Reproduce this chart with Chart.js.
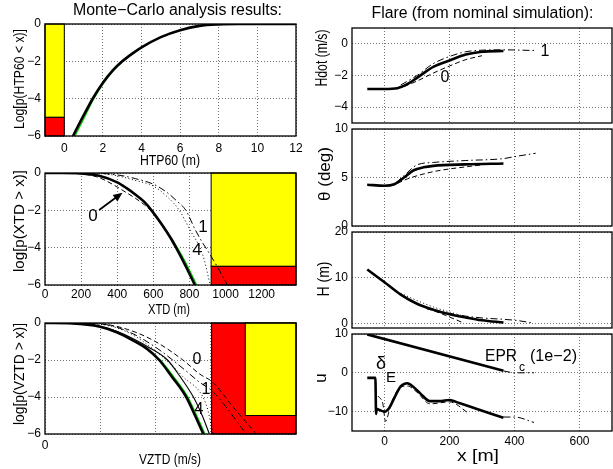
<!DOCTYPE html>
<html>
<head>
<meta charset="utf-8">
<script src="https://cdn.jsdelivr.net/npm/chart.js@4"></script>
<style>
  html, body { margin: 0; padding: 0; background: #fff; }
  #fig { position: relative; width: 613px; height: 469px; overflow: hidden; }
  #fig canvas { position: absolute; left: 0; top: 0; }
</style>
</head>
<body>
<div id="fig"></div>
<script>
// ---- Monte-Carlo: HTP60 ----
const htpX = [0.45, 1, 1.5, 2, 2.5, 3, 3.5, 4, 5, 6, 7, 8, 9, 12];
const htpBlack = [-6, -4.9, -3.95, -3.15, -2.5, -2.0, -1.6, -1.25, -0.7, -0.33, -0.1, -0.02, 0, 0];
const htpGreenX = [0.55, 1, 1.5, 2, 2.5, 3, 4];
const htpGreen = [-6, -5.1, -4.05, -3.22, -2.55, -2.03, -1.26];
const htpXTicks = [0, 2, 4, 6, 8, 10, 12];
const logTicks = [-6, -4, -2, 0];

// ---- Monte-Carlo: XTD ----
const xtdX = [0, 100, 200, 300, 400, 450, 500, 550, 590, 650, 700, 726, 780, 830];
const xtdBlack = [0, 0, -0.02, -0.15, -0.5, -0.8, -1.15, -1.55, -2.0, -2.8, -3.55, -4, -5, -6];
const xtdGreenX = [590, 650, 700, 730, 785, 840];
const xtdGreen = [-2.0, -2.78, -3.5, -3.95, -4.9, -6];
const xtd0X = [0, 200, 300, 400, 450, 500, 550, 590, 650];
const xtd0 = [0, -0.05, -0.25, -0.75, -1.05, -1.35, -1.7, -2.05, -2.85];
const xtd1X = [0, 300, 400, 500, 600, 670, 730, 780, 830, 870, 900, 950, 1010];
const xtd1 = [0, -0.02, -0.1, -0.3, -0.6, -1.0, -1.5, -2.0, -3.0, -3.7, -4.15, -4.95, -6];
const xtd4X = [0, 300, 400, 500, 600, 680, 744, 800, 874, 915];
const xtd4 = [0, -0.03, -0.15, -0.4, -0.7, -1.3, -2.0, -3.0, -4.4, -6];
const xtdXTicks = [0, 200, 400, 600, 800, 1000, 1200];

// ---- Monte-Carlo: VZTD ----
const vzX = [0, 0.5, 1, 1.3, 1.6, 1.85, 2.07, 2.3, 2.56, 2.72, 2.87];
const vzBlack = [0, -0.02, -0.2, -0.5, -0.95, -1.4, -2, -2.9, -4, -5, -6];
const vzThinX = [0, 0.5, 1, 1.3, 1.6, 1.9, 2.22, 2.45, 2.69, 2.85, 2.98];
const vzThin = [0, -0.02, -0.18, -0.45, -0.85, -1.35, -2, -2.9, -4, -5, -6];
const vzGreenX = [1.85, 2.09, 2.33, 2.59, 2.75, 2.9];
const vzGreen = [-1.4, -2, -2.9, -4, -5, -6];
const vz0X = [0, 1, 1.5, 2, 2.5, 2.8, 3.04, 3.4, 3.83];
const vz0 = [0, -0.05, -0.35, -1.0, -2.0, -2.75, -3.2, -4.5, -6];
const vz1X = [0, 1, 1.5, 2, 2.5, 2.8, 3.04, 3.65];
const vz1 = [0, -0.05, -0.45, -1.3, -2.45, -3.2, -3.7, -6];
const vz4X = [0, 1, 1.5, 2, 2.5, 2.92, 3.05];
const vz4 = [0, -0.08, -0.5, -1.5, -2.9, -4.4, -6];
const vzXTicks = [0, 1, 2, 3, 4];

// ---- Flare: Hdot ----
const hdX = [-53, 0, 40, 70, 100, 150, 200, 250, 300, 366];
const hdSolid = [-2.85, -2.85, -2.8, -2.55, -2.15, -1.45, -1.05, -0.68, -0.5, -0.45];
const hd1X = [50, 100, 150, 200, 250, 300, 366, 460];
const hd1 = [-2.6, -2.0, -1.25, -0.8, -0.5, -0.4, -0.38, -0.42];
const hd0X = [60, 100, 150, 200, 250, 300];
const hd0 = [-2.7, -2.35, -1.85, -1.4, -1.0, -0.75];

// ---- Flare: theta ----
const thX = [-53, 0, 30, 60, 90, 120, 150, 250, 366];
const thSolid = [4.25, 4.15, 4.3, 5.0, 5.75, 6.05, 6.2, 6.35, 6.45];
const thDashDotX = [-53, 0, 30, 60, 100, 150, 250, 366, 400, 465];
const thDashDot = [4.25, 4.15, 4.35, 5.2, 6.3, 6.55, 6.75, 6.95, 7.15, 7.5];
const thDashX = [40, 70, 150, 250, 300];
const thDash = [4.4, 4.85, 5.6, 6.1, 6.3];

// ---- Flare: H ----
const hX = [-53, 0, 50, 100, 150, 200, 250, 300, 366];
const hSolid = [11.8, 9.0, 6.3, 4.3, 3.0, 2.0, 1.3, 0.7, 0.2];
const hDotX = [50, 100, 150, 200, 250, 300];
const hDot = [6.6, 5.0, 3.6, 2.5, 1.5, 0.6];
const hDashDotX = [150, 200, 250, 300, 366, 400, 450];
const hDashDot = [3.0, 2.2, 1.6, 1.2, 0.9, 0.7, 0.2];
const hDashX = [130, 150, 190, 240];
const hDash = [3.2, 2.8, 1.7, 0.2];

// ---- Flare: controls u ----
const eprX = [-53, 366];
const epr = [9.9, 0.5];
const eprTailX = [366, 400, 460];
const eprTail = [0.5, 0, 0];
const deX = [-53, -28, -26, -24, -15, 0, 15, 30, 50, 70, 90, 110, 140, 170, 200, 230, 280, 366];
const deSolid = [-1.3, -1.3, -10.6, -9.3, -9.6, -10, -9, -6.5, -3.5, -2.7, -3.7, -5.3, -7.3, -7.3, -7, -7.8, -9.2, -11.6];
const deDashX = [-20, -5, 3, 20, 45, 70, 100, 140, 200, 260];
const deDash = [-6, -8, -12.5, -8, -4, -3.4, -5, -8, -7.5, -10.5];
const deTailX = [366, 400, 460];
const deTail = [-11.4, -11.4, -12.8];

const flareXTicks = [0, 200, 400, 600];

const FONT = '"Liberation Sans", Arial, Helvetica, sans-serif';
const FIG_W = 613, FIG_H = 469;
const YW = 40, XH = 20;
const GRID = 'rgba(0,0,0,0.55)';
const fig = document.getElementById('fig');

function fmt(v) { return v < 0 ? '\u2212' + Math.abs(v) : String(v); }

function line(xs, ys, style) {
  return Object.assign({
    data: xs.map((v, i) => ({ x: v, y: ys[i] })),
    showLine: true, pointRadius: 0, borderColor: '#000', borderWidth: 1,
    fill: false, cubicInterpolationMode: 'monotone'
  }, style);
}
const SOLID = { borderWidth: 2.6 };
const THIN = { borderWidth: 1.1 };
const GREEN = { borderColor: '#00d000', borderWidth: 1.3 };
const DASH = { borderDash: [5, 3] };
const DASHDOT = { borderDash: [7, 3, 1.5, 3] };
const DOT = { borderDash: [1, 2.5] };

function drawText(ctx, t) {
  ctx.save();
  ctx.translate(t.x, t.y);
  if (t.rot) ctx.rotate(-Math.PI / 2);
  ctx.font = (t.size || 12) + 'px ' + FONT;
  ctx.textAlign = 'center';
  ctx.textBaseline = 'middle';
  if (t.w) { const m = ctx.measureText(t.t).width; ctx.scale(t.w / m, 1); }
  ctx.fillStyle = '#000';
  ctx.fillText(t.t, 0, 0);
  ctx.restore();
}

function deco(spec) {
  return {
    id: 'deco',
    beforeDatasetsDraw(chart) {
      const { ctx, scales: { x, y } } = chart;
      (spec.zones || []).forEach(z => {
        const x0 = x.getPixelForValue(z.x[0]), x1 = x.getPixelForValue(z.x[1]);
        const y0 = y.getPixelForValue(z.y[0]), y1 = y.getPixelForValue(z.y[1]);
        ctx.save();
        ctx.fillStyle = z.color;
        ctx.fillRect(x0, y1, x1 - x0, y0 - y1);
        ctx.strokeStyle = '#000';
        ctx.lineWidth = 1;
        ctx.strokeRect(x0, y1, x1 - x0, y0 - y1);
        ctx.restore();
      });
    },
    afterDraw(chart) {
      const { ctx, chartArea: a, scales: { x, y } } = chart;
      ctx.save();
      ctx.strokeStyle = '#000';
      ctx.lineWidth = 1.3;
      ctx.strokeRect(a.left, a.top, a.right - a.left, a.bottom - a.top);
      (spec.arrows || []).forEach(ar => {
        const x0 = x.getPixelForValue(ar.from[0]), y0 = y.getPixelForValue(ar.from[1]);
        const x1 = x.getPixelForValue(ar.to[0]), y1 = y.getPixelForValue(ar.to[1]);
        const ang = Math.atan2(y1 - y0, x1 - x0);
        ctx.lineWidth = 1.8;
        ctx.beginPath(); ctx.moveTo(x0, y0);
        ctx.lineTo(x1 - 6 * Math.cos(ang), y1 - 6 * Math.sin(ang)); ctx.stroke();
        ctx.beginPath();
        ctx.moveTo(x1, y1);
        ctx.lineTo(x1 - 10 * Math.cos(ang - 0.4), y1 - 10 * Math.sin(ang - 0.4));
        ctx.lineTo(x1 - 10 * Math.cos(ang + 0.4), y1 - 10 * Math.sin(ang + 0.4));
        ctx.closePath(); ctx.fillStyle = '#000'; ctx.fill();
      });
      ctx.restore();
      (spec.texts || []).forEach(t => drawText(ctx, t));
    }
  };
}

function makePanel(spec) {
  const c = document.createElement('canvas');
  c.width = FIG_W; c.height = FIG_H;
  fig.appendChild(c);
  const b = spec.box;
  const tickFont = { family: FONT, size: 12 };
  new Chart(c, {
    type: 'scatter',
    data: { datasets: spec.datasets },
    options: {
      responsive: false, animation: false, events: [],
      layout: { padding: { left: b.l - YW, top: b.t, right: FIG_W - b.r, bottom: FIG_H - b.b - XH } },
      plugins: { legend: { display: false }, tooltip: { enabled: false } },
      scales: {
        x: {
          type: 'linear', position: 'bottom', min: spec.xMin, max: spec.xMax,
          afterBuildTicks: s => { s.ticks = spec.xTicks.map(v => ({ value: v })); },
          afterFit: s => { s.height = XH; },
          ticks: { display: spec.xShow !== false, callback: spec.xFmt || fmt, font: tickFont, color: '#000',
                   padding: spec.xPad || 4, maxRotation: 0, autoSkip: false },
          grid: { color: GRID, drawTicks: false },
          border: { display: false, dash: [1, 2] }
        },
        y: {
          type: 'linear', position: 'left', min: spec.yMin, max: spec.yMax,
          afterBuildTicks: s => { s.ticks = spec.yTicks.map(v => ({ value: v })); },
          afterFit: s => { s.width = YW; },
          ticks: { callback: fmt, font: tickFont, color: '#000', padding: 4, autoSkip: false },
          grid: { color: GRID, drawTicks: false },
          border: { display: false, dash: [1, 2] }
        }
      }
    },
    plugins: [deco(spec)]
  });
}

// Left column
makePanel({
  box: { l: 45, r: 296, t: 24, b: 136 },
  xMin: -1, xMax: 12, yMin: -6, yMax: 0, xTicks: htpXTicks, yTicks: logTicks, xPad: 5,
  zones: [{ x: [-1, 0], y: [-5, 0], color: '#ffff00' }, { x: [-1, 0], y: [-6, -5], color: '#ff0000' }],
  datasets: [line(htpX, htpBlack, SOLID), line(htpGreenX, htpGreen, GREEN)],
  texts: [
    { t: 'Monte\u2212Carlo analysis results:', x: 177.5, y: 11, size: 16, w: 209 },
    { t: 'HTP60 (m)', x: 170, y: 161, size: 14, w: 60 },
    { t: 'Log[p(HTP60 < x)]', x: 20, y: 79, size: 15, w: 100, rot: true }
  ]
});

makePanel({
  box: { l: 45, r: 296, t: 173, b: 285 },
  xMin: 0, xMax: 1390, yMin: -6, yMax: 0, xTicks: xtdXTicks, yTicks: logTicks, xPad: 2,
  zones: [{ x: [920, 1390], y: [-5, 0], color: '#ffff00' }, { x: [920, 1390], y: [-6, -5], color: '#ff0000' }],
  datasets: [line(xtdX, xtdBlack, SOLID), line(xtdGreenX, xtdGreen, GREEN),
             line(xtd0X, xtd0, DASH), line(xtd1X, xtd1, DASHDOT), line(xtd4X, xtd4, DOT)],
  arrows: [{ from: [300, -1.98], to: [429, -1.06] }],
  texts: [
    { t: 'XTD (m)', x: 169, y: 310, size: 14, w: 42 },
    { t: 'log[p(XTD > x)]', x: 20, y: 221, size: 15, w: 102, rot: true },
    { t: '0', x: 93, y: 216, size: 17 },
    { t: '1', x: 203, y: 227, size: 17 },
    { t: '4', x: 197, y: 250, size: 17 }
  ]
});

makePanel({
  box: { l: 45, r: 296, t: 323, b: 434 },
  xMin: 0, xMax: 4.55, yMin: -6, yMax: 0, xTicks: vzXTicks, yTicks: logTicks, xPad: 4,
  xFmt: v => (v === 0 ? '0' : ''),
  zones: [{ x: [3.02, 4.55], y: [-6, 0], color: '#ff0000' }, { x: [3.63, 4.55], y: [-5, 0], color: '#ffff00' }],
  datasets: [line(vzX, vzBlack, SOLID), line(vzGreenX, vzGreen, GREEN), line(vzThinX, vzThin, THIN),
             line(vz0X, vz0, DASH), line(vz1X, vz1, DASHDOT), line(vz4X, vz4, DOT)],
  texts: [
    { t: 'VZTD (m/s)', x: 170, y: 460, size: 14, w: 62 },
    { t: 'log[p(VZTD > x)]', x: 20, y: 374, size: 15, w: 102, rot: true },
    { t: '0', x: 197, y: 360, size: 16 },
    { t: '1', x: 206, y: 390, size: 16 },
    { t: '4', x: 199, y: 410, size: 16 }
  ]
});

// Right column
makePanel({
  box: { l: 352, r: 612, t: 28, b: 123 },
  xMin: -100, xMax: 700, yMin: -5, yMax: 1, xTicks: flareXTicks, yTicks: [-4, -2, 0], xShow: false,
  datasets: [line(hdX, hdSolid, SOLID), line(hd1X, hd1, DASHDOT), line(hd0X, hd0, DASH)],
  texts: [
    { t: 'Flare (from nominal simulation):', x: 482.5, y: 14, size: 16, w: 222 },
    { t: 'Hdot (m/s)', x: 323, y: 58, size: 16, w: 57, rot: true },
    { t: '0', x: 445, y: 78, size: 16 },
    { t: '1', x: 545, y: 52, size: 16 }
  ]
});

makePanel({
  box: { l: 352, r: 612, t: 129, b: 226 },
  xMin: -100, xMax: 700, yMin: 0, yMax: 10, xTicks: flareXTicks, yTicks: [0, 5, 10], xShow: false,
  datasets: [line(thX, thSolid, SOLID), line(thDashDotX, thDashDot, DASHDOT), line(thDashX, thDash, DASH)],
  texts: [{ t: '\u03b8 (deg)', x: 326, y: 174, size: 16, w: 54, rot: true }]
});

makePanel({
  box: { l: 352, r: 612, t: 232, b: 328 },
  xMin: -100, xMax: 700, yMin: -1, yMax: 20, xTicks: flareXTicks, yTicks: [0, 10, 20], xShow: false,
  datasets: [line(hX, hSolid, SOLID), line(hDotX, hDot, DOT), line(hDashDotX, hDashDot, DASHDOT), line(hDashX, hDash, DASH)],
  texts: [{ t: 'H (m)', x: 325, y: 279, size: 16, w: 35, rot: true }]
});

makePanel({
  box: { l: 352, r: 612, t: 334, b: 431 },
  xMin: -100, xMax: 700, yMin: -15, yMax: 10, xTicks: flareXTicks, yTicks: [-10, 0, 10], xPad: 3,
  datasets: [line(eprX, epr, SOLID), line(eprTailX, eprTail, DASHDOT),
             line(deX, deSolid, SOLID), line(deDashX, deDash, DASH), line(deTailX, deTail, DASHDOT)],
  texts: [
    { t: 'u', x: 321, y: 378, size: 17, rot: true },
    { t: 'x [m]', x: 478, y: 457, size: 16, w: 42 },
    { t: '\u03b4', x: 381, y: 364, size: 18 },
    { t: 'E', x: 391, y: 378, size: 15 },
    { t: 'EPR', x: 501, y: 357, size: 16, w: 32 },
    { t: 'c', x: 522, y: 368, size: 12 },
    { t: '(1e\u22122)', x: 553.5, y: 357, size: 16, w: 47 }
  ]
});
</script>
</body>
</html>
